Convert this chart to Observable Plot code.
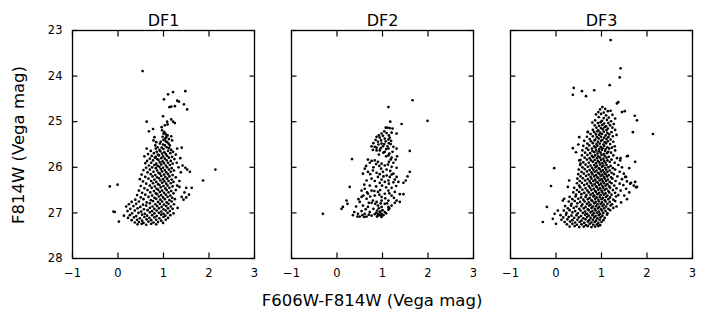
<!DOCTYPE html>
<html>
<head>
<meta charset="utf-8">
<script src="https://cdn.jsdelivr.net/npm/d3@7"></script>
<script src="https://cdn.jsdelivr.net/npm/@observablehq/plot@0.6"></script>
<style>
  html, body { margin: 0; padding: 0; background: white; }
  #chart { position: relative; width: 704px; height: 319px; background: white; overflow: hidden; font-family: "DejaVu Sans", sans-serif; }
  #chart svg.panel { position: absolute; top: 0; }
</style>
</head>
<body>
<div id="chart"></div>
<script>
const panelTitles = ["DF1", "DF2", "DF3"];
const xTicks = [-1, 0, 1, 2, 3];
const yTicks = [23, 24, 25, 26, 27, 28];
const xLabel = "F606W-F814W (Vega mag)";
const yLabel = "F814W (Vega mag)";

// [F606W-F814W colour, F814W magnitude]
const df1 = [
[0.54,23.89],[1.48,24.33],[1.21,24.35],[1.10,24.40],[1.01,24.51],[1.30,24.54],[1.34,24.56],[1.45,24.62],[1.52,24.73],[1.13,24.68],[1.17,24.67],[1.25,24.66],
[0.99,24.88],[0.63,25.00],[1.17,24.95],[1.21,25.00],[1.25,25.03],[1.08,25.00],[1.03,25.08],[0.96,25.12],[0.97,25.19],[1.09,25.06],[0.68,25.21],[0.77,25.16],
[1.02,25.23],[1.05,25.28],[1.06,25.34],[1.00,25.40],[1.08,25.45],[1.11,25.48],[1.03,25.52],[0.96,25.57],[0.87,25.56],[0.83,25.59],[0.91,25.62],[1.17,25.32],
[1.19,25.41],[0.80,25.34],[0.78,25.41],[0.84,25.45],[0.63,25.59],[1.30,25.59],[1.40,25.57],[1.17,25.62],
[1.00,25.26],[1.09,25.30],[0.98,25.33],[1.04,25.37],[1.12,25.38],[0.94,25.44],[1.05,25.43],[1.14,25.52],[0.99,25.50],[0.92,25.48],[1.07,25.56],[0.82,25.52],[1.12,25.58],[1.00,25.60],
[0.72,25.64],[0.85,25.66],[0.93,25.65],[1.02,25.67],[1.10,25.64],[1.21,25.66],
[0.66,25.71],[0.79,25.69],[0.88,25.72],[0.97,25.70],[1.05,25.71],[1.15,25.69],[1.27,25.72],
[0.58,25.76],[0.74,25.75],[0.83,25.77],[0.90,25.74],[0.99,25.76],[1.08,25.75],[1.19,25.77],
[0.70,25.81],[0.81,25.79],[0.86,25.82],[0.95,25.80],[1.03,25.81],[1.12,25.79],[1.24,25.82],[1.37,25.80],
[0.64,25.86],[0.77,25.85],[0.89,25.84],[0.98,25.87],[1.07,25.85],[1.16,25.86],
[0.60,25.91],[0.73,25.90],[0.84,25.92],[0.92,25.89],[1.01,25.91],[1.10,25.90],[1.20,25.92],[1.29,25.90],
[0.68,25.96],[0.80,25.95],[0.87,25.97],[0.95,25.94],[1.05,25.96],[1.14,25.95],[1.42,25.96],
[0.62,26.01],[0.75,26.00],[0.83,26.02],[0.91,25.99],[0.99,26.01],[1.08,26.00],[1.18,26.02],[1.33,26.00],[1.48,26.01],
[0.56,26.06],[0.70,26.05],[0.86,26.07],[0.94,26.04],[1.03,26.06],[1.12,26.05],[1.23,26.07],[1.52,26.05],
[0.65,26.11],[0.78,26.10],[0.89,26.12],[0.97,26.09],[1.06,26.11],[1.16,26.10],[1.38,26.11],
[0.52,26.16],[0.72,26.15],[0.82,26.17],[0.92,26.14],[1.01,26.16],[1.10,26.15],[1.20,26.17],
[0.60,26.21],[0.76,26.20],[0.86,26.22],[0.95,26.19],[1.04,26.21],[1.13,26.20],[1.27,26.22],[1.58,26.10],
[0.48,26.26],[0.67,26.25],[0.80,26.27],[0.90,26.24],[0.99,26.26],[1.08,26.25],[1.18,26.27],
[0.55,26.31],[0.73,26.30],[0.84,26.32],[0.93,26.29],[1.02,26.31],[1.11,26.30],[1.22,26.32],[1.35,26.30],
[0.62,26.36],[0.77,26.35],[0.88,26.37],[0.97,26.34],[1.06,26.36],[1.16,26.35],
[0.50,26.41],[0.70,26.40],[0.81,26.42],[0.91,26.39],[1.00,26.41],[1.09,26.40],[1.20,26.42],[1.30,26.40],
[0.58,26.46],[0.74,26.45],[0.85,26.47],[0.94,26.44],[1.04,26.46],[1.13,26.45],[1.35,26.43],[1.50,26.45],
[0.46,26.51],[0.65,26.50],[0.79,26.52],[0.88,26.49],[0.97,26.51],[1.07,26.50],[1.17,26.52],[1.27,26.50],[1.62,26.45],
[0.53,26.56],[0.71,26.55],[0.83,26.57],[0.92,26.54],[1.01,26.56],[1.11,26.55],[1.22,26.57],[1.46,26.55],
[0.42,26.61],[0.60,26.60],[0.75,26.62],[0.86,26.59],[0.95,26.61],[1.05,26.60],[1.15,26.62],[1.56,26.60],
[0.50,26.66],[0.67,26.65],[0.80,26.67],[0.90,26.64],[0.99,26.66],[1.09,26.65],[1.19,26.67],[1.40,26.65],[1.50,26.66],
[0.38,26.71],[0.56,26.70],[0.72,26.72],[0.84,26.69],[0.93,26.71],[1.03,26.70],[1.13,26.72],[1.25,26.70],[1.44,26.71],
[0.30,26.76],[0.46,26.75],[0.63,26.77],[0.77,26.74],[0.88,26.76],[0.97,26.75],[1.07,26.77],[1.18,26.75],
[0.24,26.81],[0.40,26.80],[0.55,26.82],[0.70,26.79],[0.82,26.81],[0.92,26.80],[1.01,26.82],[1.11,26.80],[1.23,26.81],
[0.18,26.86],[0.34,26.85],[0.49,26.87],[0.62,26.84],[0.76,26.86],[0.86,26.85],[0.96,26.87],[1.06,26.85],[1.16,26.86],
[0.27,26.91],[0.43,26.90],[0.57,26.92],[0.70,26.89],[0.80,26.91],[0.90,26.90],[1.00,26.92],[1.10,26.90],[1.20,26.91],[1.31,26.89],
[0.21,26.96],[0.37,26.95],[0.51,26.97],[0.65,26.94],[0.75,26.96],[0.85,26.95],[0.95,26.97],[1.05,26.95],[1.14,26.96],
[0.31,27.01],[0.45,27.00],[0.59,27.02],[0.70,26.99],[0.80,27.01],[0.90,27.00],[1.00,27.02],[1.09,27.00],[1.22,27.01],
[0.13,27.06],[0.26,27.05],[0.40,27.07],[0.53,27.04],[0.64,27.06],[0.75,27.05],[0.85,27.07],[0.95,27.04],[1.04,27.06],[1.15,27.05],
[0.22,27.11],[0.35,27.10],[0.48,27.12],[0.58,27.09],[0.69,27.11],[0.80,27.10],[0.91,27.12],[1.00,27.09],[1.10,27.11],
[0.30,27.16],[0.42,27.15],[0.53,27.17],[0.63,27.14],[0.73,27.16],[0.84,27.15],[0.95,27.17],[1.05,27.15],
[0.37,27.21],[0.46,27.20],[0.56,27.22],[0.67,27.19],[0.78,27.21],[0.88,27.20],[0.99,27.22],
[0.43,27.25],[0.52,27.24],[0.62,27.26],[0.73,27.24],[0.84,27.25],
[2.14,26.05],[1.87,26.29],[-0.18,26.42],[-0.01,26.38],[-0.10,26.97],[-0.07,26.98],[0.02,27.19]
];

const df2 = [
[1.66,24.53],[1.13,24.68],[1.99,24.98],[1.17,25.00],[1.42,25.05],[1.07,25.13],[1.11,25.13],[1.16,25.14],[1.22,25.15],[1.04,25.21],[0.98,25.26],[1.09,25.25],
[1.20,25.24],[1.31,25.26],[1.14,25.30],[0.87,25.33],[0.94,25.35],[1.05,25.37],[1.13,25.39],[0.90,25.44],[0.98,25.48],[0.76,25.54],[0.83,25.55],[1.01,25.54],
[1.11,25.54],[1.18,25.49],[0.87,25.63],[0.94,25.63],[1.05,25.66],[1.13,25.59],[1.31,25.59],[1.22,25.66],[1.60,25.64],[1.32,25.76],[1.13,25.74],[1.20,25.79],
[1.29,25.83],[1.14,25.88],[1.24,25.90],[0.68,25.83],[0.76,25.86],[0.83,25.85],[0.90,25.88],[0.98,25.92],[1.05,25.96],[0.33,25.82],[1.31,26.01],[0.61,26.03],
[0.68,26.10],[0.57,26.14],[0.79,26.07],[0.87,26.12],[0.94,26.15],[1.01,26.10],[1.09,26.18],[1.16,26.21],[1.24,26.14],[1.31,26.21],[0.90,26.21],[0.98,26.27],
[1.05,26.32],[1.13,26.29],[0.76,26.25],[0.65,26.29],[1.60,26.10],[1.55,26.20],[1.51,26.29],[1.46,26.34],[1.27,26.27],[1.35,26.32],[0.28,26.43],[0.54,26.51],
[0.61,26.47],[0.68,26.58],[0.76,26.51],[0.83,26.62],[0.90,26.54],[0.98,26.65],[1.05,26.58],[1.13,26.51],[1.20,26.62],[1.27,26.54],[1.38,26.59],[1.46,26.59],
[1.31,26.73],[1.38,26.76],[0.54,26.65],[0.65,26.69],[0.79,26.73],[0.87,26.76],[0.98,26.73],[1.13,26.73],[0.21,26.73],[0.23,26.80],[0.13,26.87],[0.10,26.91],
[0.50,26.76],[0.57,26.84],[0.68,26.87],[0.76,26.78],[0.90,26.84],[0.98,26.87],[1.05,26.80],[1.13,26.87],[1.20,26.84],[0.54,26.96],[0.61,27.02],[0.72,26.98],
[0.83,27.03],[0.90,27.06],[0.98,27.02],[1.05,26.98],[1.13,26.93],[0.46,27.02],[0.35,27.05],[0.50,27.08],[0.65,27.08],[0.76,27.06],[-0.31,27.02],[0.94,26.98],[0.98,27.09],
[0.92,25.30],[1.01,25.31],[1.16,25.35],[0.85,25.40],[0.97,25.41],[1.07,25.43],[1.19,25.42],[0.80,25.47],[0.91,25.50],[1.04,25.49],[1.14,25.47],[0.87,25.57],
[0.96,25.58],[1.08,25.60],[1.24,25.55],[0.79,25.62],[1.02,25.68],[1.15,25.70],[0.92,25.72],[1.08,25.76],[1.18,25.83],[0.72,25.90],[0.86,25.93],[0.93,25.97],
[1.12,25.94],[1.20,25.99],[0.64,25.97],[0.80,26.00],[0.97,26.03],[1.09,26.05],[1.17,26.08],[0.73,26.15],[1.02,26.20],[1.20,26.16],[0.83,26.30],[0.94,26.34],
[1.14,26.36],[1.24,26.33],[0.60,26.38],[0.72,26.40],[0.86,26.42],[0.99,26.40],[1.08,26.44],[1.20,26.45],[1.30,26.41],[0.66,26.55],[0.82,26.52],[0.95,26.50],
[1.15,26.57],[0.58,26.62],[0.73,26.64],[0.93,26.60],[1.06,26.68],[1.25,26.67],[0.47,26.70],[0.70,26.78],[0.84,26.80],[0.96,26.79],[1.10,26.79],[1.27,26.78],
[0.42,26.86],[0.63,26.92],[0.80,26.91],[0.88,26.95],[0.92,26.90],[1.00,26.94],[1.15,26.90],[0.38,26.98],[0.56,27.05],[0.70,27.04],[0.86,27.00],[0.90,27.02],
[0.93,27.04],[0.95,26.97],[1.02,27.05],[1.08,27.01],[0.88,27.08],[0.96,27.06],[0.45,27.08],[0.60,27.09]
];

const df3 = [
[1.20,23.21],[1.42,23.83],[1.40,24.03],[1.18,24.20],[0.39,24.26],[0.37,24.41],[0.57,24.33],[0.66,24.44],[0.84,24.31],[1.37,24.57],[1.34,24.60],[1.51,24.77],
[1.45,24.79],[1.73,24.87],[1.78,24.97],[2.13,25.27],[1.69,25.23],[-0.04,26.02],[-0.11,26.41],[-0.20,26.87],[-0.29,27.20],
[1.58,25.75],[1.74,25.88],[1.41,25.85],[1.45,26.00],[1.49,26.14],[1.54,26.21],[1.63,26.36],[1.74,26.32],[1.78,26.43],
[1.52,26.21],[1.56,26.31],[1.65,26.34],[1.71,26.40],[1.76,26.44],[1.54,26.47],[1.61,26.55],[1.50,26.62],[1.56,26.70],[1.43,26.77],[1.42,25.80],[1.56,25.76],[1.61,26.02],
[0.29,26.29],[0.26,26.43],[0.18,26.69],[0.15,26.73],[0.04,26.95],[-0.03,27.02],[-0.07,27.13],[0.00,27.24],[0.37,25.58],[0.44,25.67],[0.51,25.85],[0.54,25.92],
[0.70,25.23],[0.51,25.34],[0.49,25.50],
[1.02,24.68],[0.97,24.73],[1.08,24.72],[1.14,24.77],[0.93,24.79],[1.20,24.76],[1.05,24.80],
[0.88,24.84],[0.99,24.83],[1.10,24.86],[1.24,24.85],[0.94,24.90],[1.05,24.92],[1.16,24.91],[1.30,24.93],[0.86,24.97],[1.01,24.98],[1.12,24.96],[1.21,24.99],
[0.80,25.02],[0.92,25.03],[0.98,25.01],[1.06,25.04],[1.15,25.03],[1.27,25.05],[0.85,25.08],[0.95,25.09],[1.02,25.07],[1.10,25.10],[1.19,25.08],[0.89,25.13],
[0.99,25.14],[1.07,25.12],[1.14,25.15],[1.24,25.13],[0.81,25.18],[0.93,25.19],[1.03,25.17],[1.11,25.19],[1.30,25.18],
[0.70,25.22],[0.84,25.23],[0.91,25.21],[0.97,25.24],[1.05,25.22],[1.13,25.25],[1.22,25.23],[0.76,25.27],[0.88,25.28],[0.95,25.29],[1.01,25.27],[1.09,25.30],
[1.17,25.28],[1.33,25.29],[0.68,25.33],[0.81,25.32],[0.90,25.34],[0.99,25.33],[1.06,25.35],[1.15,25.34],[1.25,25.32],[0.74,25.38],[0.86,25.39],[0.94,25.37],
[1.02,25.40],[1.11,25.38],[1.20,25.39],
[0.62,25.42],[0.77,25.43],[0.85,25.41],[0.92,25.44],[0.99,25.42],[1.07,25.45],[1.14,25.43],[1.26,25.44],[0.69,25.48],[0.81,25.47],[0.89,25.49],[0.96,25.48],
[1.04,25.50],[1.10,25.47],[1.19,25.49],[0.60,25.53],[0.73,25.52],[0.84,25.54],[0.91,25.53],[0.98,25.55],[1.06,25.53],[1.13,25.56],[1.29,25.54],[0.67,25.58],
[0.79,25.59],[0.87,25.57],[0.95,25.60],[1.02,25.58],[1.09,25.60],[1.17,25.59],[1.23,25.57],
[0.58,25.63],[0.71,25.62],[0.80,25.64],[0.88,25.63],[0.94,25.65],[1.01,25.62],[1.08,25.64],[1.15,25.66],[1.30,25.63],[0.64,25.68],[0.75,25.69],[0.84,25.67],
[0.91,25.70],[0.98,25.68],[1.05,25.71],[1.12,25.69],[1.21,25.68],[0.57,25.74],[0.69,25.73],[0.79,25.75],[0.86,25.74],[0.93,25.76],[1.00,25.73],[1.07,25.75],
[1.16,25.77],[1.26,25.74],[0.63,25.79],[0.74,25.80],[0.82,25.78],[0.90,25.80],[0.97,25.79],[1.04,25.81],[1.11,25.79],[1.34,25.80],
[0.54,25.84],[0.68,25.83],[0.77,25.85],[0.85,25.84],[0.92,25.86],[0.99,25.84],[1.06,25.86],[1.13,25.85],[1.22,25.83],[0.60,25.89],[0.72,25.90],[0.81,25.88],
[0.88,25.91],[0.95,25.89],[1.02,25.91],[1.09,25.90],[1.18,25.88],[1.29,25.90],[0.53,25.95],[0.65,25.94],[0.76,25.96],[0.84,25.95],[0.90,25.97],[0.97,25.94],
[1.04,25.96],[1.11,25.95],[1.20,25.97],[1.37,25.95],[0.58,26.00],[0.70,25.99],[0.79,26.01],[0.87,26.00],[0.94,26.02],[1.01,25.99],[1.08,26.01],[1.15,26.00],[1.25,26.02],
[0.50,26.05],[0.63,26.04],[0.74,26.06],[0.82,26.05],[0.89,26.07],[0.96,26.04],[1.03,26.06],[1.10,26.05],[1.18,26.07],[1.30,26.05],[0.56,26.10],[0.68,26.09],
[0.78,26.11],[0.85,26.10],[0.92,26.12],[0.99,26.09],[1.06,26.11],[1.13,26.10],[1.22,26.12],[1.40,26.10],[0.49,26.15],[0.61,26.14],[0.72,26.16],[0.80,26.15],
[0.88,26.17],[0.95,26.14],[1.02,26.16],[1.09,26.15],[1.16,26.17],[1.27,26.15],[0.54,26.20],[0.66,26.19],[0.76,26.21],[0.84,26.20],[0.91,26.22],[0.98,26.19],
[1.05,26.21],[1.12,26.20],[1.21,26.22],[1.35,26.20],
[0.47,26.25],[0.59,26.24],[0.70,26.26],[0.78,26.25],[0.86,26.27],[0.93,26.24],[1.00,26.26],[1.07,26.25],[1.14,26.27],[1.24,26.25],[1.45,26.26],[0.52,26.30],
[0.64,26.29],[0.74,26.31],[0.82,26.30],[0.89,26.32],[0.96,26.29],[1.03,26.31],[1.10,26.30],[1.18,26.32],[1.31,26.30],[0.46,26.35],[0.57,26.34],[0.68,26.36],
[0.77,26.35],[0.85,26.37],[0.92,26.34],[0.99,26.36],[1.06,26.35],[1.13,26.37],[1.22,26.35],[1.40,26.36],[0.51,26.40],[0.62,26.39],[0.72,26.41],[0.80,26.40],
[0.88,26.42],[0.95,26.39],[1.02,26.41],[1.09,26.40],[1.17,26.42],[1.28,26.40],[1.48,26.39],
[0.40,26.45],[0.53,26.44],[0.65,26.46],[0.75,26.45],[0.83,26.47],[0.90,26.44],[0.97,26.46],[1.04,26.45],[1.11,26.47],[1.19,26.45],[1.33,26.46],[0.46,26.50],
[0.58,26.49],[0.69,26.51],[0.78,26.50],[0.86,26.52],[0.93,26.49],[1.00,26.51],[1.07,26.50],[1.15,26.52],[1.25,26.50],[1.42,26.51],[0.38,26.55],[0.51,26.54],
[0.62,26.56],[0.72,26.55],[0.81,26.57],[0.88,26.54],[0.95,26.56],[1.02,26.55],[1.09,26.57],[1.17,26.55],[1.30,26.56],[0.44,26.60],[0.56,26.59],[0.67,26.61],
[0.76,26.60],[0.84,26.62],[0.91,26.59],[0.98,26.61],[1.05,26.60],[1.13,26.62],[1.22,26.60],[1.37,26.61],
[0.30,26.65],[0.43,26.64],[0.55,26.66],[0.65,26.65],[0.74,26.67],[0.82,26.64],[0.89,26.66],[0.96,26.65],[1.03,26.67],[1.10,26.65],[1.19,26.66],[1.32,26.64],
[0.36,26.70],[0.49,26.69],[0.60,26.71],[0.70,26.70],[0.78,26.72],[0.86,26.69],[0.93,26.71],[1.00,26.70],[1.07,26.72],[1.15,26.70],[1.26,26.71],[0.28,26.75],
[0.41,26.74],[0.53,26.76],[0.63,26.75],[0.72,26.77],[0.80,26.74],[0.87,26.76],[0.94,26.75],[1.01,26.77],[1.09,26.75],[1.18,26.76],[1.30,26.74],[0.34,26.80],
[0.47,26.79],[0.58,26.81],[0.68,26.80],[0.76,26.82],[0.84,26.79],[0.91,26.81],[0.98,26.80],[1.05,26.82],[1.13,26.80],[1.23,26.81],
[0.20,26.85],[0.33,26.84],[0.45,26.86],[0.56,26.85],[0.65,26.87],[0.73,26.84],[0.81,26.86],[0.88,26.85],[0.95,26.87],[1.02,26.85],[1.10,26.86],[1.20,26.84],
[1.33,26.86],[0.26,26.90],[0.39,26.89],[0.51,26.91],[0.61,26.90],[0.70,26.92],[0.78,26.89],[0.85,26.91],[0.92,26.90],[0.99,26.92],[1.06,26.90],[1.15,26.91],
[1.26,26.89],[0.17,26.95],[0.30,26.94],[0.42,26.96],[0.54,26.95],[0.64,26.97],[0.72,26.94],[0.80,26.96],[0.87,26.95],[0.94,26.97],[1.01,26.95],[1.09,26.96],
[1.19,26.94],[0.23,27.00],[0.36,26.99],[0.48,27.01],[0.59,27.00],[0.68,27.02],[0.76,26.99],[0.83,27.01],[0.90,27.00],[0.97,27.02],[1.04,27.00],[1.13,27.01],
[0.10,27.05],[0.22,27.04],[0.34,27.06],[0.45,27.05],[0.55,27.07],[0.64,27.04],[0.72,27.06],[0.80,27.05],[0.87,27.07],[0.94,27.05],[1.02,27.06],[1.12,27.04],
[0.16,27.10],[0.28,27.09],[0.40,27.11],[0.50,27.10],[0.60,27.12],[0.68,27.09],[0.76,27.11],[0.84,27.10],[0.91,27.12],[0.98,27.10],[1.07,27.11],[0.12,27.15],
[0.25,27.14],[0.36,27.16],[0.47,27.15],[0.56,27.17],[0.65,27.14],[0.73,27.16],[0.81,27.15],[0.88,27.17],[0.96,27.15],[1.04,27.16],[0.19,27.20],[0.31,27.19],
[0.42,27.21],[0.52,27.20],[0.62,27.22],[0.70,27.19],[0.78,27.21],[0.85,27.20],[0.93,27.22],[1.00,27.20],
[0.24,27.25],[0.36,27.24],[0.46,27.26],[0.56,27.25],[0.66,27.27],[0.74,27.24],[0.82,27.26],[0.90,27.25],[0.97,27.27],[0.30,27.30],[0.41,27.29],[0.51,27.31],
[0.61,27.30],[0.70,27.29],[0.78,27.31],[0.86,27.30],[0.93,27.29]
];

const panelData = [df1, df2, df3];

// layout
const frameLefts = [72, 291, 509.5];
const frameW = 182, frameH = 228, frameTop = 30;
const ML = 40, MR = 6, MT = 30, MB = 30;
const FONT = "DejaVu Sans, sans-serif";
const TICK = 5.5;

const chart = document.getElementById("chart");

panelData.forEach((data, i) => {
  const marks = [
    Plot.dot(data, {x: d => d[0], y: d => d[1], r: 1.35, fill: "black", stroke: null}),
    Plot.frame({stroke: "black", strokeWidth: 1.3}),
    Plot.axisX(xTicks, {anchor: "bottom", tickSize: TICK, dy: -TICK, tickFormat: () => "", label: null, stroke: "black", strokeWidth: 1.2}),
    Plot.axisX(xTicks, {anchor: "top", tickSize: TICK, dy: TICK, tickFormat: () => "", label: null, stroke: "black", strokeWidth: 1.2}),
    Plot.axisY(yTicks, {anchor: "left", tickSize: TICK, dx: TICK, tickFormat: () => "", label: null, stroke: "black", strokeWidth: 1.2}),
    Plot.axisY(yTicks, {anchor: "right", tickSize: TICK, dx: -TICK, tickFormat: () => "", label: null, stroke: "black", strokeWidth: 1.2}),
    Plot.axisX(xTicks, {anchor: "bottom", tickSize: 0, tickPadding: 10, fontSize: 11.5, label: null, fill: "black"}),
    Plot.text([panelTitles[i]], {frameAnchor: "top", dy: -5, lineAnchor: "bottom", fontSize: 16, fill: "black"})
  ];
  if (i === 0) {
    marks.push(Plot.axisY(yTicks, {anchor: "left", tickSize: 0, tickPadding: 10, fontSize: 11.5, label: null, fill: "black"}));
  }
  const svg = Plot.plot({
    width: ML + frameW + MR,
    height: MT + frameH + MB,
    marginLeft: ML, marginRight: MR, marginTop: MT, marginBottom: MB,
    style: {background: "transparent", fontFamily: FONT, color: "black", overflow: "visible"},
    x: {domain: [-1, 3]},
    y: {domain: [23, 28], reverse: true},
    marks
  });
  svg.classList.add("panel");
  svg.style.left = (frameLefts[i] - ML) + "px";
  svg.style.top = (frameTop - MT) + "px";
  chart.appendChild(svg);
});

// shared axis labels
const lab = d3.select(chart).append("svg")
  .attr("width", 704).attr("height", 319)
  .style("position", "absolute").style("left", "0px").style("top", "0px")
  .style("pointer-events", "none");
lab.append("text")
  .attr("x", 372)
  .attr("y", 306)
  .attr("text-anchor", "middle")
  .attr("font-family", FONT).attr("font-size", 16.5).attr("fill", "black")
  .text(xLabel);
lab.append("text")
  .attr("transform", "translate(24,145) rotate(-90)")
  .attr("text-anchor", "middle")
  .attr("font-family", FONT).attr("font-size", 16.5).attr("fill", "black")
  .text(yLabel);
</script>
</body>
</html>
